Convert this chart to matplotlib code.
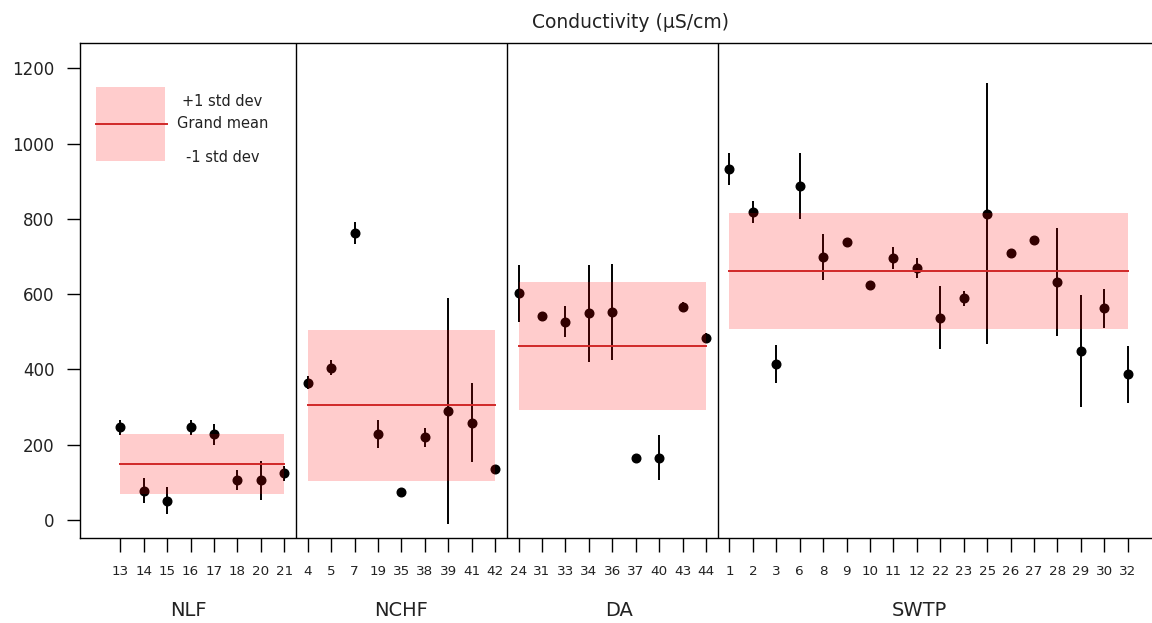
import numpy as np
import matplotlib
matplotlib.use("Agg")
import matplotlib.pyplot as plt
import matplotlib.transforms as mtransforms

plt.rcParams['font.family'] = ['DejaVu Sans']

# ---- data ----
groups = ["NLF", "NCHF", "DA", "SWTP"]

nlf_sites = ["13", "14", "15", "16", "17", "18", "20", "21"]
nlf_mean = [246, 78, 51, 246, 228, 106, 106, 124]
nlf_err = [20, 34, 36, 20, 28, 27, 52, 20]

nchf_sites = ["4", "5", "7", "19", "35", "38", "39", "41", "42"]
nchf_mean = [365, 405, 762, 228, 74, 220, 290, 259, 135]
nchf_err = [17, 21, 30, 38, 4, 25, 301, 104, 5]

da_sites = ["24", "31", "33", "34", "36", "37", "40", "43", "44"]
da_mean = [602, 542, 527, 549, 553, 166, 166, 567, 483]
da_err = [75, 10, 42, 128, 128, 4, 61, 12, 14]

swtp_sites = ["1", "2", "3", "6", "8", "9", "10", "11", "12", "22", "23",
              "25", "26", "27", "28", "29", "30", "32"]
swtp_mean = [932, 818, 414, 888, 699, 739, 623, 695, 669, 537, 589,
             814, 708, 743, 632, 448, 563, 387]
swtp_err = [42, 29, 50, 88, 62, 10, 5, 29, 26, 84, 20,
            346, 4, 9, 143, 149, 52, 76]

title = "Conductivity (\u00b5S/cm)"
yticks = [0, 200, 400, 600, 800, 1000, 1200]

group_sites = [nlf_sites, nchf_sites, da_sites, swtp_sites]
group_means = [nlf_mean, nchf_mean, da_mean, swtp_mean]
group_errs = [nlf_err, nchf_err, da_err, swtp_err]

# ---- figure ----
W, H = 1152, 623
fig = plt.figure(figsize=(W / 100, H / 100), dpi=100)
ax_l, ax_r, ax_t, ax_b = 80, 1168, 42.7, 538.3
ax = fig.add_axes([ax_l / W, 1 - ax_b / H, (ax_r - ax_l) / W, (ax_b - ax_t) / H])

text_col = "#222222"
all_labels = []
start = 1
bounds = []
for sites, means, errs in zip(group_sites, group_means, group_errs):
    x = np.arange(start, start + len(sites))
    ax.errorbar(x, means, yerr=errs, fmt='o', color='black', ms=6.2,
                elinewidth=1.4, capsize=0, zorder=2)
    m = np.mean(means)
    s = np.std(means, ddof=1)
    ax.fill_between([x[0], x[-1]], m - s, m + s, color='#ff0000', alpha=0.2,
                    lw=0, zorder=3)
    ax.plot([x[0], x[-1]], [m, m], color='#d02828', lw=1.4, zorder=4)
    all_labels += sites
    bounds.append((x[0], x[-1]))
    start += len(sites)

n = len(all_labels)
# group separators
for (a, b), (c, d) in zip(bounds[:-1], bounds[1:]):
    ax.axvline((b + c) / 2, color='black', lw=1.0, zorder=1)

ax.set_xlim(-0.72, n + 1.72)
ax.set_ylim(-48.6, 1268)
ax.set_xticks(np.arange(1, n + 1))
ax.set_xticklabels(all_labels, fontsize=9.7, color=text_col)
ax.set_yticks(yticks)
ax.set_yticklabels([str(v) for v in yticks], fontsize=12, color=text_col)
ax.tick_params(axis='x', length=10, width=1.0, pad=9.5, direction='out')
ax.tick_params(axis='y', length=9.5, width=1.0, pad=9, direction='out')
for sp in ax.spines.values():
    sp.set_linewidth(1.0)

# group labels
trans = mtransforms.blended_transform_factory(ax.transData, ax.transAxes)
label_x = [(-0.72 + 8.5) / 2, (bounds[1][0] + bounds[1][1]) / 2,
           (bounds[2][0] + bounds[2][1]) / 2 + 0.3, (bounds[3][0] + bounds[3][1]) / 2 - 0.4]
for gx, g in zip(label_x, groups):
    ax.text(gx, -0.145, g, transform=trans, ha='center', va='center',
            fontsize=14, color=text_col)

# legend (drawn manually)
ax.add_patch(plt.Rectangle((0.0147, 0.761), 0.0635, 0.149, transform=ax.transAxes,
                           facecolor='#ff0000', alpha=0.2, lw=0, zorder=3))
ax.plot([0.0147, 0.0797], [0.836, 0.836], transform=ax.transAxes,
        color='#d02828', lw=1.4, zorder=4)
for ty, tt in [(0.882, "+1 std dev"), (0.836, "Grand mean"), (0.768, "-1 std dev")]:
    ax.text(0.131, ty, tt, transform=ax.transAxes, ha='center', va='center',
            fontsize=10.5, color=text_col)

fig.text(631 / W, 1 - 22 / H, title, ha='center', va='center', fontsize=13.5,
         color=text_col)

fig.savefig("out.png", dpi=100)
